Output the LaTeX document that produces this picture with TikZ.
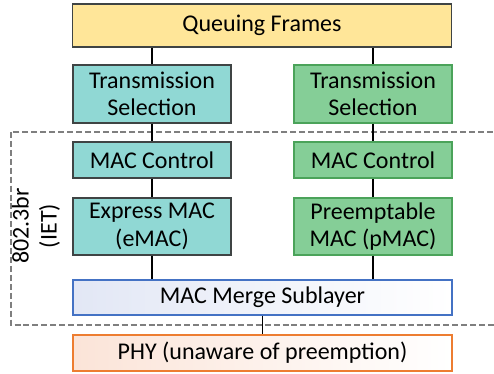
\documentclass[tikz,border=0pt]{standalone}
\usepackage{fontspec}
\setmainfont{Carlito}
\definecolor{queuefill}{HTML}{FFE699}
\definecolor{tealfill}{HTML}{90D8D4}
\definecolor{greenfill}{HTML}{85CE97}
\definecolor{greenline}{HTML}{4BA35A}
\definecolor{boxline}{HTML}{3F4444}
\definecolor{mergeline}{HTML}{4472C4}
\definecolor{mergefill}{HTML}{E2E7F5}
\definecolor{phyline}{HTML}{ED7D31}
\definecolor{phyfill}{HTML}{FBE4D8}
\definecolor{dashline}{HTML}{7F7F7F}
\tikzset{
    layer/.style={draw, line width=1.1pt, align=center, inner sep=0pt,
        font=\fontsize{18}{20.5}\selectfont},
    express/.style={layer, fill=tealfill, draw=boxline, minimum width=118.5pt},
    preempt/.style={layer, fill=greenfill, draw=greenline, minimum width=118.5pt},
    wide/.style={layer, minimum width=284pt},
    link/.style={line width=1.3pt, black}
}
\begin{document}
\begin{tikzpicture}[x=0.75pt, y=-0.75pt]
        \useasboundingbox (0, 0) rectangle (494, 374);

        \draw[dashline, dash pattern=on 4.5pt off 2.2pt, line width=0.8pt] (11, 132) rectangle (510, 325);
        \node[rotate=90, align=center, font=\fontsize{18}{21}\selectfont] (iet) at (36, 226) {802.3br\\(IET)};

        \node[wide, fill=queuefill, draw=boxline, minimum height=32.25pt] (queue) at (262, 25.5) {Queuing Frames};

        \node[express, minimum height=43.5pt] (tsE) at (152, 94) {Transmission\\Selection};
        \node[preempt, minimum height=43.5pt] (tsP) at (373, 94) {Transmission\\Selection};

        \node[express, minimum height=27pt] (ctrlE) at (152, 160) {MAC Control};
        \node[preempt, minimum height=27pt] (ctrlP) at (373, 160) {MAC Control};

        \node[express, minimum height=42.75pt] (emac) at (152, 226.5) {Express MAC\\(eMAC)};
        \node[preempt, minimum height=42.75pt] (pmac) at (373, 226.5) {Preemptable\\MAC (pMAC)};

        \node[wide, draw=mergeline, left color=mergefill, right color=white, minimum height=26.25pt] (merge) at (262.5, 297.5) {MAC Merge Sublayer};

        \node[wide, draw=phyline, left color=phyfill, right color=white, minimum height=27pt] (phy) at (262.5, 353) {PHY (unaware of preemption)};

        % connectors
        \draw[link] (queue.south -| tsE) -- (tsE);
        \draw[link] (queue.south -| tsP) -- (tsP);
        \draw[link] (tsE) -- (ctrlE);
        \draw[link] (tsP) -- (ctrlP);
        \draw[link] (ctrlE) -- (emac);
        \draw[link] (ctrlP) -- (pmac);
        \draw[link] (emac) -- (merge.north -| emac);
        \draw[link] (pmac) -- (merge.north -| pmac);
        \draw[link] (merge) -- (phy);
\end{tikzpicture}
\end{document}
